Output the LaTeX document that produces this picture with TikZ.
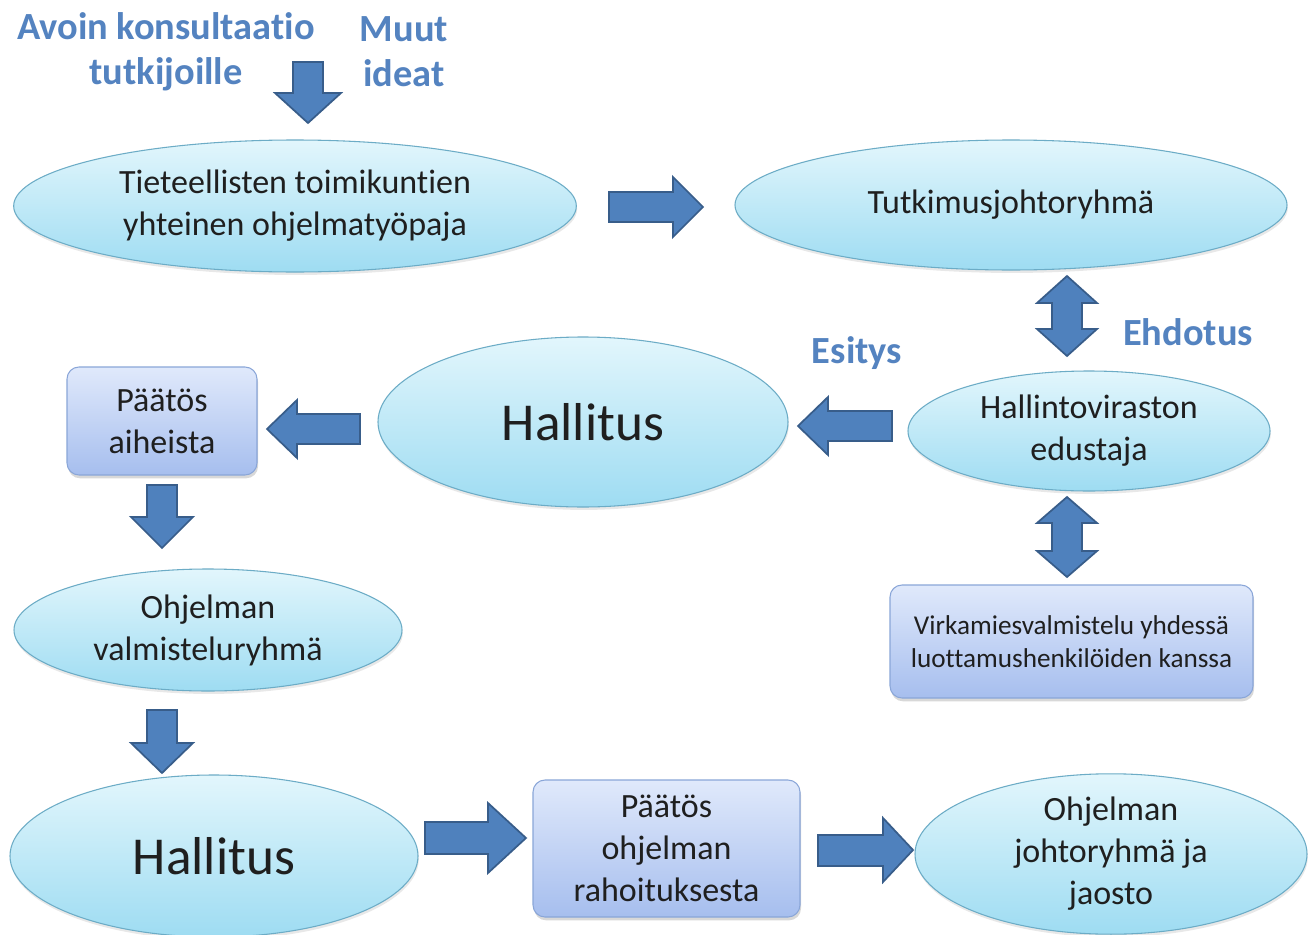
\documentclass[tikz,border=0pt]{standalone}
\usepackage{fontspec}
\setmainfont{Carlito}[RawFeature={-liga;-clig;-calt;-dlig}]
\usetikzlibrary{shapes.geometric,shadows}
\definecolor{arrowfill}{RGB}{79,129,189}
\definecolor{arrowline}{RGB}{56,93,138}
\definecolor{lbl}{RGB}{84,131,192}
\definecolor{elltop}{RGB}{226,246,252}
\definecolor{ellbot}{RGB}{158,220,242}
\definecolor{elledge}{RGB}{108,172,198}
\definecolor{boxtop}{RGB}{224,233,251}
\definecolor{boxbot}{RGB}{166,190,238}
\definecolor{boxedge}{RGB}{138,166,216}
\begin{document}
\begin{tikzpicture}[x=0.75pt,y=-0.75pt,
  ell/.style={ellipse, draw=elledge, line width=0.8pt, top color=elltop, bottom color=ellbot,
    inner sep=0pt, align=center, text=black!88,
    font=\fontsize{25.5}{31.5}\selectfont,
    drop shadow={opacity=0.18, shadow xshift=0.6pt, shadow yshift=-2.2pt}},
  big/.style={font=\fontsize{40}{48}\selectfont},
  rbox/.style={rectangle, rounded corners=9pt, draw=boxedge, line width=0.8pt,
    top color=boxtop, bottom color=boxbot, inner sep=0pt, align=center, text=black!88,
    font=\fontsize{25.5}{31.5}\selectfont,
    drop shadow={opacity=0.3, shadow xshift=0.8pt, shadow yshift=-2.5pt}},
  small/.style={font=\fontsize{20.4}{24.5}\selectfont},
  barrow/.style={fill=arrowfill, draw=arrowline, line width=1.3pt, line join=miter},
  lab/.style={text=lbl, font=\bfseries\fontsize{28.8}{33.75}\selectfont, inner sep=0pt, align=center}]
\useasboundingbox[fill=white] (0,0) rectangle (1311,935);

% labels
\node[lab] (avoin) at (166,52) {Avoin konsultaatio\\tutkijoille};
\node[lab] (muut) at (404,52) {Muut\\ideat};
\node[lab] (ehdotus) at (1188,332) {Ehdotus};
\node[lab] (esitys) at (857,353) {Esitys};

% ellipses
\node[ell, minimum width=422pt, minimum height=99pt] (tiet) at (295,206)
  {Tieteellisten toimikuntien\\yhteinen ohjelmatyöpaja};
\node[ell, minimum width=414pt, minimum height=97.5pt] (tutk) at (1011,205)
  {Tutkimusjohtoryhmä};
\node[ell, big, minimum width=307.5pt, minimum height=127.5pt] (hall1) at (583,422)
  {Hallitus};
\node[ell, minimum width=271.5pt, minimum height=90pt] (hallv) at (1089,431)
  {Hallintoviraston\\edustaja};
\node[ell, minimum width=291pt, minimum height=91.5pt] (ohjv) at (208,630)
  {Ohjelman\\valmisteluryhmä};
\node[ell, big, minimum width=306pt, minimum height=121.5pt] (hall2) at (214,856)
  {Hallitus};
\node[ell, minimum width=294pt, minimum height=117pt] (ohjj) at (1111,854)
  {Ohjelman\\johtoryhmä ja\\jaosto};

% boxes
\node[rbox, minimum width=142.5pt, minimum height=81pt] (paa) at (162,421)
  {Päätös\\aiheista};
\node[rbox, minimum width=200.25pt, minimum height=102.75pt] (pao) at (666.5,848.5)
  {Päätös\\ohjelman\\rahoituksesta};
\node[rbox, small, minimum width=272.25pt, minimum height=84.75pt] (virk) at (1071.5,641.5)
  {Virkamiesvalmistelu yhdessä\\luottamushenkilöiden kanssa};

% block arrows
% ideas -> workshop
\draw[barrow] (293,62) -- (323,62) -- (323,93) -- (341,93) -- (308,123) -- (275,93) -- (293,93) -- cycle;
% workshop -> Tutkimusjohtoryhma
\draw[barrow] (609,192) -- (673,192) -- (673,177) -- (703,207) -- (673,237) -- (673,222) -- (609,222) -- cycle;
% Tutkimusjohtoryhma <-> Hallintoviraston edustaja
\draw[barrow] (1067,276) -- (1097,303) -- (1082,303) -- (1082,329) -- (1097,329) -- (1067,356)
  -- (1037,329) -- (1052,329) -- (1052,303) -- (1037,303) -- cycle;
% Hallintoviraston edustaja <-> Virkamiesvalmistelu
\draw[barrow] (1067,497) -- (1097,523) -- (1082,523) -- (1082,551) -- (1097,551) -- (1067,577)
  -- (1037,551) -- (1052,551) -- (1052,523) -- (1037,523) -- cycle;
% Hallintoviraston edustaja -> Hallitus
\draw[barrow] (892,411) -- (828,411) -- (828,397) -- (798,426) -- (828,455) -- (828,441) -- (892,441) -- cycle;
% Hallitus -> Paatos aiheista
\draw[barrow] (360,414) -- (297,414) -- (297,400) -- (267,429) -- (297,458) -- (297,444) -- (360,444) -- cycle;
% Paatos aiheista -> Ohjelman valmisteluryhma
\draw[barrow] (147,485) -- (177,485) -- (177,517) -- (193,517) -- (162,548) -- (131,517) -- (147,517) -- cycle;
% Ohjelman valmisteluryhma -> Hallitus
\draw[barrow] (147,710) -- (177,710) -- (177,743) -- (193,743) -- (162,773) -- (131,743) -- (147,743) -- cycle;
% Hallitus -> Paatos ohjelman rahoituksesta
\draw[barrow] (425,822) -- (488,822) -- (488,803) -- (526,838) -- (488,873) -- (488,854) -- (425,854) -- cycle;
% Paatos ohjelman rahoituksesta -> Ohjelman johtoryhma
\draw[barrow] (818,835) -- (883,835) -- (883,818) -- (913,850) -- (883,882) -- (883,866) -- (818,866) -- cycle;
\end{tikzpicture}
\end{document}
